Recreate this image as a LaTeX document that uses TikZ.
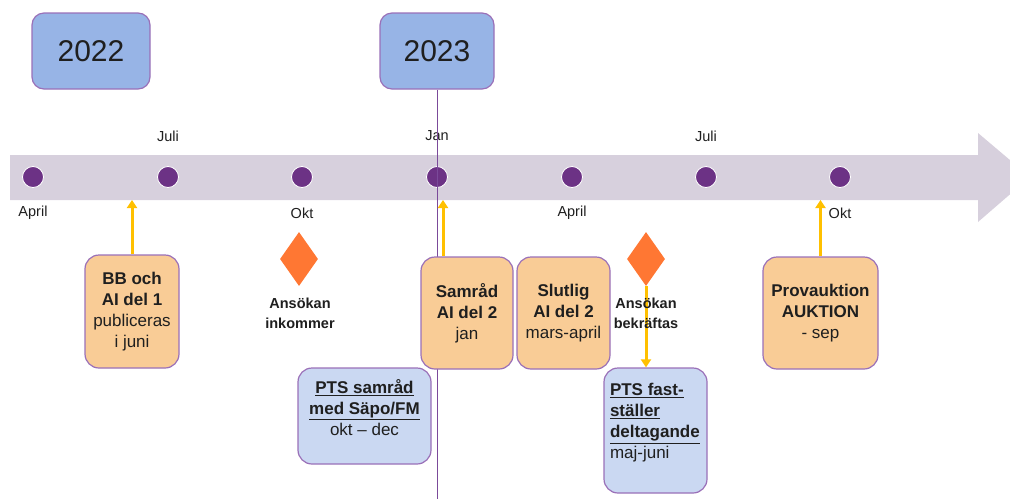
\documentclass[tikz,border=0pt]{standalone}
\usepackage{fontspec}
\setmainfont{Liberation Sans}
\usetikzlibrary{shapes.geometric,arrows.meta}
\definecolor{bandgray}{HTML}{D7D0DD}
\definecolor{dotpurple}{HTML}{6C3285}
\definecolor{yearblue}{HTML}{97B4E6}
\definecolor{boxline}{HTML}{9A70B8}
\definecolor{boxorange}{HTML}{F9CC96}
\definecolor{boxblue}{HTML}{CAD8F2}
\definecolor{diaorange}{HTML}{FF7733}
\definecolor{arrowyellow}{HTML}{FFC000}
\definecolor{linepurple}{HTML}{7B4A9A}
\definecolor{txt}{HTML}{1F1F1F}
\begin{document}
\begin{tikzpicture}[x=1pt, y=-1pt,
		dot/.style={circle, fill=dotpurple, draw=white, line width=0.8pt, minimum size=21pt, inner sep=0pt},
		month/.style={font=\fontsize{14.5}{17}\selectfont, text=txt},
		yearbox/.style={draw=boxline, fill=yearblue, line width=1.2pt, rounded corners=12pt, minimum width=#1, minimum height=76pt, font=\fontsize{30}{36}\selectfont, text=txt},
		orangebox/.style={draw=boxline, fill=boxorange, line width=1.2pt, rounded corners=14pt, align=center, font=\fontsize{17}{21}\selectfont, text=txt, inner sep=0pt},
		bluebox/.style={draw=boxline, fill=boxblue, line width=1.2pt, rounded corners=14pt, font=\fontsize{17}{21}\selectfont, text=txt, inner sep=0pt},
		marker/.style={diamond, fill=diaorange, minimum width=38pt, minimum height=54pt, inner sep=0pt},
		note/.style={font=\bfseries\fontsize{14.5}{20}\selectfont, align=center, text=txt},
		yarrow/.style={draw=arrowyellow, line width=3pt, -{Triangle[width=10pt,length=8pt]}}]
		\useasboundingbox (0, 0) rectangle (1010, 499);
		\clip (0, 0) rectangle (1010, 499);
		% time band
		\fill[bandgray] (10, 155) -- (978, 155) -- (978, 133) -- (1030, 177) -- (978, 222) -- (978, 200) -- (10, 200) -- cycle;
		\coordinate (bandbot) at (0, 200);
		\coordinate (bottom) at (0, 499);
		\foreach \x [count=\i] in {33, 168, 302, 437, 572, 706, 840}
			\node[dot] (d\i) at (\x, 177) {};
		\foreach \x/\y/\m in {33/213/April, 168/136/Juli, 302/213/Okt, 437/136/Jan, 572/213/April, 706/136/Juli, 840/213/Okt}
			\node[month] (m\x) at (\x, \y) {\m};
		% years
		\node[yearbox=118pt] (y2022) at (91, 51) {2022};
		\node[yearbox=114pt] (y2023) at (437, 51) {2023};
		\draw[linepurple, line width=1pt] (y2023.south) -- (y2023.south |- bottom);
		% events
		\node[orangebox, minimum width=94pt, minimum height=113pt] (bb) at (132, 311.5) {\textbf{BB och}\\\textbf{AI del 1}\\publiceras\\i juni};
		\node[orangebox, minimum width=92pt, minimum height=112pt] (samrad) at (467, 313) {\textbf{Samråd}\\\textbf{AI del 2}\\jan};
		\node[orangebox, minimum width=93pt, minimum height=112pt] (slutlig) at (563.5, 313) {\textbf{Slutlig}\\\textbf{AI del 2}\\mars-april};
		\node[orangebox, minimum width=115pt, minimum height=112pt] (prov) at (820.5, 313) {\textbf{Provauktion}\\\textbf{AUKTION}\\- sep};
		\node[bluebox] (ptssam) at (364.5, 416) {\parbox[c][96pt][t]{133pt}{\centering\vspace*{11pt}\strut\textbf{\underline{PTS samråd}}\\\textbf{\underline{med Säpo/FM}}\\okt -- dec}};
		\node[bluebox] (ptsfast) at (655.5, 430.5) {\parbox[c][125pt][t]{103pt}{\raggedright\leftskip=6pt\vspace*{13pt}\strut\textbf{\underline{PTS fast-}}\\\textbf{\underline{ställer}}\\\textbf{\underline{deltagande}}\\maj-juni}};
		\node[marker] (ans1) at (299, 259) {};
		\node[marker] (ans2) at (646, 259) {};
		% arrows
		\coordinate (samfoot) at ([xshift=-24pt]samrad.north);
		\draw[yarrow] (bb.north) -- (bb.north |- bandbot);
		\draw[yarrow] (samfoot) -- (samfoot |- bandbot);
		\draw[yarrow] (prov.north) -- (prov.north |- bandbot);
		\draw[yarrow] (ans2.south) -- (ans2.south |- ptsfast.north);
		\node[note] (inkommer) at (300, 313) {Ansökan\\inkommer};
		\node[note] (bekraftas) at (646, 313) {Ansökan\\bekräftas};
	\end{tikzpicture}
\end{document}
